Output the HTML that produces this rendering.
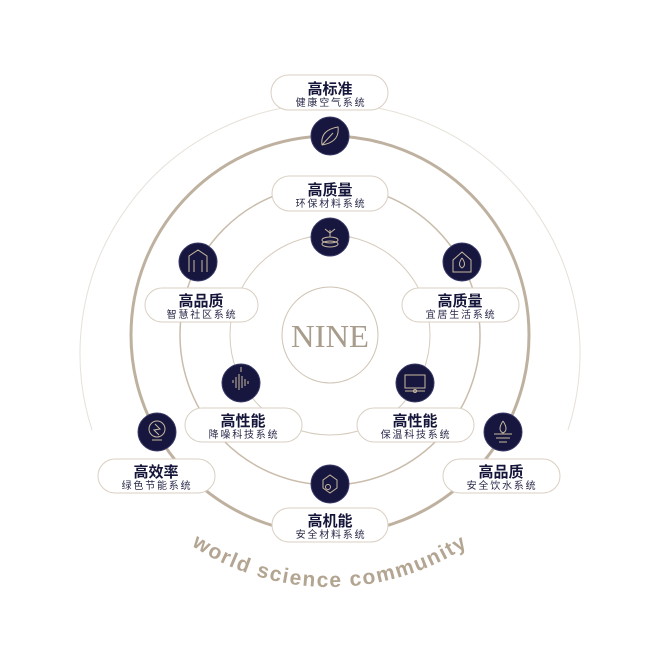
<!DOCTYPE html>
<html><head><meta charset="utf-8"><style>
body{margin:0;background:#fff;width:660px;height:660px;overflow:hidden}
svg{display:block}
.t{font-family:"Liberation Sans","Noto Sans CJK SC",sans-serif;fill:#15153a;text-anchor:middle}
.h{font-size:15px;font-weight:bold}
.s{font-size:10px;letter-spacing:1.8px;fill:#2a2a4a}
</style></head><body>
<svg width="660" height="660" viewBox="0 0 660 660">
<defs>
<path id="arc" d="M 78 335 A 252 252 0 0 0 582 335"/>
</defs>
<path d="M 92 430 A 250 250 0 1 1 568 430" fill="none" stroke="#e6e0d8" stroke-width="1"/>
<circle cx="330" cy="335" r="199" fill="none" stroke="#bfb19f" stroke-width="3"/>
<circle cx="330" cy="335" r="150" fill="none" stroke="#c9bcab" stroke-width="1.5"/>
<circle cx="330" cy="335" r="100" fill="none" stroke="#d6cbbd" stroke-width="1"/>
<circle cx="330" cy="335" r="48" fill="none" stroke="#cfc3b3" stroke-width="1"/>
<text x="330" y="347" font-family="Liberation Serif,serif" font-size="32" fill="#a89c8c" text-anchor="middle" textLength="78" lengthAdjust="spacingAndGlyphs">NINE</text>
<text font-family="Liberation Sans,sans-serif" font-weight="bold" font-size="21" fill="#b3a591" letter-spacing="1.6"><textPath href="#arc" startOffset="50%" text-anchor="middle">world science community</textPath></text>

<g fill="#16163f" stroke="#3a3a66" stroke-width="1">
<circle cx="330" cy="136" r="19"/><circle cx="330" cy="237" r="19"/>
<circle cx="198" cy="262" r="19"/><circle cx="462" cy="262" r="19"/>
<circle cx="241" cy="383" r="19"/><circle cx="415" cy="383" r="19"/>
<circle cx="157" cy="432" r="19"/><circle cx="503" cy="432" r="19"/>
<circle cx="330" cy="484" r="19"/>
</g>
<g fill="none" stroke="#c9b99f" stroke-width="1">
<path d="M322 145 Q320 130 338 127 Q340 142 322 145 M322 145 L333 133"/>
<ellipse cx="330" cy="240" rx="8" ry="3"/><ellipse cx="330" cy="244" rx="8" ry="3"/><path d="M330 237 V230 M330 233 L325 229 M330 233 L335 229"/>
<path d="M189 272 V256 L198 250 L207 256 V272 M194 272 V260 M202 272 V260"/>
<path d="M453 272 V260 L462 252 L471 260 V272 Z M462 258 Q457 265 462 268 Q467 265 462 258"/>
<path d="M233 383 V380 M236 388 V377 M239 390 V374 M242 388 V376 M245 386 V379 M248 384 V381 M241 372 V367"/>
<rect x="405" y="375" width="20" height="13"/><path d="M405 391 H425"/><circle cx="415" cy="391" r="1.5"/>
<circle cx="157" cy="429" r="8"/><path d="M155 424 L160 429 L154 430 L159 435 M152 440 H162"/>
<path d="M503 421 Q497 430 503 433 Q509 430 503 421 M494 434 H512 M496 438 H510 M499 442 H507"/>
<path d="M323 480 L330 475 L337 480 V488 L330 493 L323 488 Z"/><circle cx="328" cy="487" r="2.5"/>
</g>

<g fill="#fff" stroke="#d9cfc2" stroke-width="1">
<rect x="271" y="75" width="117" height="35" rx="17.5"/>
<rect x="272" y="176" width="116" height="35" rx="17.5"/>
<rect x="145" y="288" width="113" height="34" rx="17"/>
<rect x="402" y="288" width="117" height="34" rx="17"/>
<rect x="185" y="408" width="117" height="34" rx="17"/>
<rect x="357" y="408" width="117" height="34" rx="17"/>
<rect x="98" y="459" width="117" height="34" rx="17"/>
<rect x="443" y="459" width="117" height="34" rx="17"/>
<rect x="272" y="508" width="116" height="34" rx="17"/>
</g>
<g class="t">
<text class="h" x="330" y="94">高标准</text><text class="s" x="331" y="106">健康空气系统</text>
<text class="h" x="330" y="195">高质量</text><text class="s" x="331" y="207">环保材料系统</text>
<text class="h" x="201" y="306">高品质</text><text class="s" x="202" y="318">智慧社区系统</text>
<text class="h" x="460" y="306">高质量</text><text class="s" x="461" y="318">宜居生活系统</text>
<text class="h" x="243" y="426">高性能</text><text class="s" x="244" y="438">降噪科技系统</text>
<text class="h" x="415" y="426">高性能</text><text class="s" x="416" y="438">保温科技系统</text>
<text class="h" x="156" y="477">高效率</text><text class="s" x="157" y="489">绿色节能系统</text>
<text class="h" x="501" y="477">高品质</text><text class="s" x="502" y="489">安全饮水系统</text>
<text class="h" x="330" y="526">高机能</text><text class="s" x="331" y="538">安全材料系统</text>
</g>
</svg>
</body></html>
